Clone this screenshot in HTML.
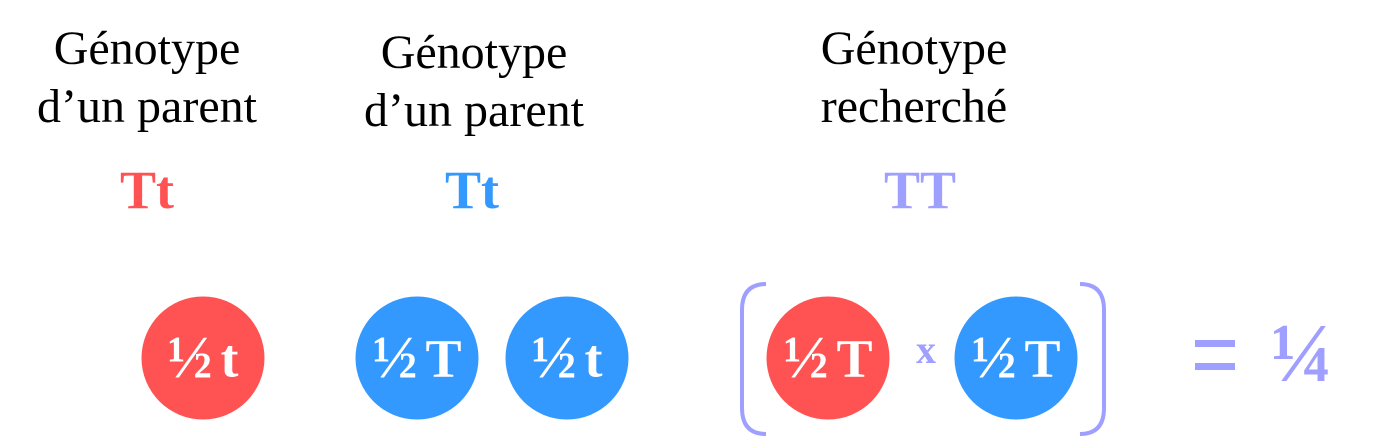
<!DOCTYPE html>
<html><head><style>
body{margin:0;width:1375px;height:438px;background:#fff;position:relative;overflow:hidden;font-family:"Liberation Serif",serif}
.t{position:absolute;transform:translateX(-50%);white-space:nowrap;font-size:48px;line-height:58px;color:#000;text-align:center}
.g{position:absolute;transform:translate(-50%,-50%);font-weight:bold;font-size:54px;line-height:1}
.c{position:absolute;width:123px;height:123px;border-radius:50%;color:#fff;font-weight:bold;font-size:54px;display:flex;align-items:center;justify-content:center;transform:translate(-50%,-50%)}
.c span{font-size:60px;margin-right:8px}
.r{background:#ff5252}.b{background:#3399ff}
.l{color:#9f9fff}
</style></head><body>
<div class="t" style="left:147px;top:20px">Génotype<br>d’un parent</div>
<div class="t" style="left:474px;top:24px">Génotype<br>d’un parent</div>
<div class="t" style="left:914px;top:20px">Génotype<br>recherché</div>
<div class="g" style="left:147px;top:190px;color:#ff5252">Tt</div>
<div class="g" style="left:472px;top:190px;color:#3399ff">Tt</div>
<div class="g l" style="left:920px;top:190px">TT</div>
<div class="c r" style="left:203px;top:358px"><span>½</span>t</div>
<div class="c b" style="left:417px;top:358px"><span>½</span>T</div>
<div class="c b" style="left:567px;top:358px"><span>½</span>t</div>
<div class="c r" style="left:828px;top:358px"><span>½</span>T</div>
<div class="c b" style="left:1016px;top:358px"><span>½</span>T</div>
<svg style="position:absolute;left:0;top:0" width="1375" height="438">
<path d="M766 284 Q742 284 742 310 L742 408 Q742 434 766 434" fill="none" stroke="#9f9fff" stroke-width="4"/>
<path d="M1080 284 Q1104 284 1104 310 L1104 408 Q1104 434 1080 434" fill="none" stroke="#9f9fff" stroke-width="4"/>
<rect x="1195" y="340" width="40" height="7" fill="#9f9fff"/>
<rect x="1195" y="363" width="40" height="7" fill="#9f9fff"/>
</svg>
<div class="g l" style="left:926px;top:350px;font-size:40px">x</div>
<div class="g l" style="left:1302px;top:354px;font-size:84px">¼</div>
</body></html>
